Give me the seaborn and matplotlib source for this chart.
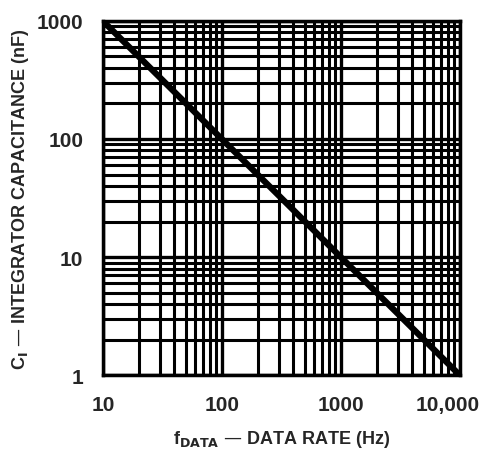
import matplotlib
matplotlib.use("Agg")
import matplotlib.pyplot as plt
import matplotlib.ticker as mticker
import matplotlib.transforms as mtrans
import seaborn as sns
import pandas as pd

# data rate (Hz) vs integrator capacitance (nF)
f_data = [10, 10000]
c_int = [1000, 1]

x_ticks = [10, 100, 1000, 10000]
x_labels = ["10", "100", "1000", "10,000"]
y_ticks = [1, 10, 100, 1000]
y_labels = ["1", "10", "100", "1000"]

sns.set_style("white")
plt.rcParams['font.family'] = ['Liberation Sans Narrow', 'Liberation Sans', 'DejaVu Sans']
plt.rcParams['font.weight'] = 'bold'

df = pd.DataFrame({"f": f_data, "c": c_int})

fig = plt.figure(figsize=(4.85, 4.56), dpi=100)
ax = fig.add_axes([0.212, 0.175, 0.736, 0.777])

ax.set_xscale("log")
ax.set_yscale("log")
ax.set_xlim(10, 10000)
ax.set_ylim(1, 1000)

ax.grid(True, which="major", color="black", linewidth=2.4)
ax.grid(True, which="minor", color="black", linewidth=2.2)
ax.xaxis.set_minor_locator(mticker.LogLocator(base=10, subs=range(2, 10)))
ax.yaxis.set_minor_locator(mticker.LogLocator(base=10, subs=range(2, 10)))
ax.xaxis.set_minor_formatter(mticker.NullFormatter())
ax.yaxis.set_minor_formatter(mticker.NullFormatter())

sns.lineplot(data=df, x="f", y="c", ax=ax, color="black", linewidth=4.5)

ax.set_xticks(x_ticks)
ax.set_xticklabels(x_labels, fontsize=15, fontweight="bold")
ax.set_yticks(y_ticks)
ax.set_yticklabels(y_labels, fontsize=15, fontweight="bold")
ax.tick_params(which="both", length=0)
ax.tick_params(axis="x", pad=14)
ax.tick_params(axis="y", pad=14)

# last x label sits a bit left of its tick, as in the original
lbl = ax.get_xticklabels()[-1]
lbl.set_transform(lbl.get_transform() + mtrans.ScaledTranslation(-12 / 100, 0, fig.dpi_scale_trans))

for s in ax.spines.values():
    s.set_color("black")
    s.set_linewidth(2.5)

ax.set_xlabel(r"f$_{\mathbf{DATA}}$ — DATA RATE (Hz)", fontsize=13, fontweight="bold", labelpad=10)
ax.set_ylabel(r"C$_{\mathbf{I}}$ — INTEGRATOR CAPACITANCE (nF)", fontsize=13, fontweight="bold", labelpad=4)

fig.savefig("out.png", dpi=100)
plt.close(fig)
